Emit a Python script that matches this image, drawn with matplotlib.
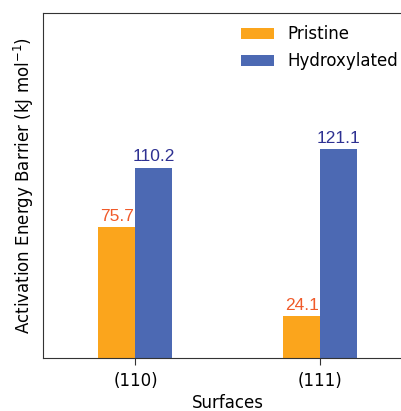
import numpy as np
import matplotlib.pyplot as plt

surfaces = ["(110)", "(111)"]
pristine = [75.7, 24.1]
hydroxylated = [110.2, 121.1]

bar_color_p = "#FBA51C"
bar_color_h = "#4C69B3"
text_color_p = "#F05A2A"
text_color_h = "#2E3192"

fig = plt.figure(figsize=(4.02, 4.11), dpi=100)
# axes runs past the right edge of the figure
ax = fig.add_axes([43 / 402, 1 - 358 / 411, 370 / 402, 345 / 411])

x = np.arange(len(surfaces))
w = 0.2
bp = ax.bar(x - w / 2, pristine, w, color=bar_color_p, label="Pristine")
bh = ax.bar(x + w / 2, hydroxylated, w, color=bar_color_h, label="Hydroxylated")

for rect, v in zip(bp, pristine):
    ax.text(rect.get_x() + rect.get_width() / 2, v + 2, f"{v:.1f}",
            ha="center", va="bottom", color=text_color_p, fontsize=12.5,
            family="Liberation Sans")
for rect, v in zip(bh, hydroxylated):
    ax.text(rect.get_x() + rect.get_width() / 2, v + 2, f"{v:.1f}",
            ha="center", va="bottom", color=text_color_h, fontsize=12.5,
            family="Liberation Sans")

ax.set_xlim(-0.5, 1.5)
ax.set_ylim(0, 200)
ax.set_xticks(x)
ax.set_xticklabels(surfaces, fontsize=12)
ax.tick_params(axis="x", length=5, pad=5, color="#333333")
ax.set_yticks([])
ax.spines["right"].set_visible(False)
for s in ("left", "top", "bottom"):
    ax.spines[s].set_color("#333333")
ax.set_xlabel("Surfaces", fontsize=12, labelpad=3)
ax.set_ylabel("Activation Energy Barrier (kJ mol$^{-1}$)", fontsize=12,
              labelpad=5)

ax.legend(loc="upper left", bbox_to_anchor=(0.535, 0.965), frameon=False,
          fontsize=12, handlelength=2.0, handleheight=0.65, labelspacing=0.55,
          handletextpad=0.8, borderpad=0, borderaxespad=0)

fig.savefig("out.png", dpi=100)
